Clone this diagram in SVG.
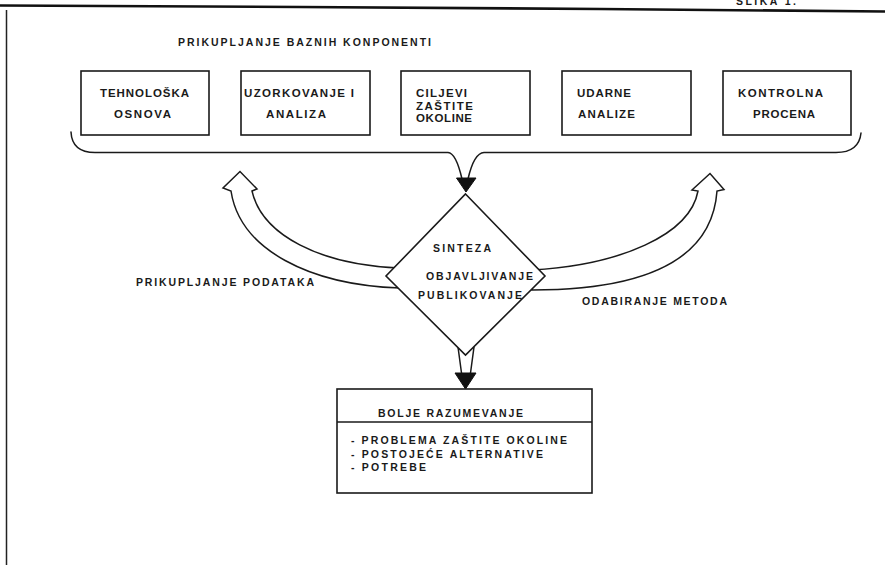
<svg xmlns="http://www.w3.org/2000/svg" width="885" height="565" viewBox="0 0 885 565">
  <style>
    .box { fill: #fff; stroke: #1a1a1a; stroke-width: 1.6; }
    .ln { fill: none; stroke: #1a1a1a; stroke-width: 1.5; stroke-linecap: round; stroke-linejoin: round; }
    .band { fill: #fff; stroke: #1a1a1a; stroke-width: 1.5; stroke-linejoin: miter; }
    .head { fill: #111; stroke: #111; stroke-width: 1; stroke-linejoin: round; }
    text { font-family: "Liberation Sans", Arial, sans-serif; font-weight: bold; fill: #1a1a1a; }
    .t11 { font-size: 11.5px; }
    .t10 { font-size: 10.5px; }
  </style>

  <rect x="0" y="0" width="885" height="565" fill="#fff"/>

  <!-- page frame -->
  <g id="frame">
    <path d="M0,5.5 L300,7 L600,9 L885,11.5" fill="none" stroke="#111" stroke-width="2.6"/>
    <line x1="6.5" y1="10" x2="6.5" y2="565" stroke="#222" stroke-width="1.5"/>
    <text class="t10" x="736" y="4.5" textLength="60">SLIKA 1.</text>
  </g>

  <g id="title">
    <text class="t10" x="178" y="46" textLength="253">PRIKUPLJANJE BAZNIH KONPONENTI</text>
  </g>

  <!-- component boxes -->
  <g id="tehnoloska-osnova">
    <rect class="box" x="81" y="71" width="128" height="64"/>
    <text class="t11" x="100" y="97" textLength="89">TEHNOLOŠKA</text>
    <text class="t11" x="114" y="117.5" textLength="57">OSNOVA</text>
  </g>
  <g id="uzorkovanje-analiza">
    <rect class="box" x="241" y="71" width="129" height="64"/>
    <text class="t11" x="244" y="97" textLength="110">UZORKOVANJE I</text>
    <text class="t11" x="266" y="117.5" textLength="60">ANALIZA</text>
  </g>
  <g id="ciljevi-zastite">
    <rect class="box" x="401" y="71" width="129" height="64"/>
    <text class="t11" x="416" y="97" textLength="51">CILJEVI</text>
    <text class="t11" x="416" y="109.5" textLength="57">ZAŠTITE</text>
    <text class="t11" x="416" y="122" textLength="56">OKOLINE</text>
  </g>
  <g id="udarne-analize">
    <rect class="box" x="562" y="71" width="129" height="64"/>
    <text class="t11" x="577" y="97" textLength="54">UDARNE</text>
    <text class="t11" x="578" y="117.5" textLength="57">ANALIZE</text>
  </g>
  <g id="kontrolna-procena">
    <rect class="box" x="723" y="71" width="128" height="64"/>
    <text class="t11" x="738" y="97" textLength="85">KONTROLNA</text>
    <text class="t11" x="753" y="117.5" textLength="62">PROCENA</text>
  </g>

  <!-- connectors: brace, hollow curved arrows, down arrows -->
  <g id="connectors">
    <path class="ln" d="M71,132 Q72,152.5 95,152.5 L448,152.5 Q456,153 462,179"/>
    <path class="ln" d="M861,133 Q859,152.5 836,152.5 L484,152.5 Q474,153 468,179"/>
    <polygon class="head" points="456.5,178 476,178 466,192"/>

    <path class="band" d="M400,288 C310,285 240,250 231,191 L223,188 L240,171.5 L257,189 L252,191 C262,235 320,265 400,268 Z"/>
    <path class="band" d="M532,290 C640,290 712,262 717,191 L724,189.5 L710,173.5 L692,190 L698,191 C690,235 620,265 532,270 Z"/>

    <path class="ln" d="M458,347 L461.5,373 M474,347 L470.5,373"/>
    <polygon class="head" points="455,373 476,373 465.5,389"/>
  </g>

  <g id="sinteza">
    <polygon class="box" points="465.5,194 545,276 465.5,355 386,276" stroke-width="1.5"/>
    <text class="t10" x="433" y="252" textLength="58">SINTEZA</text>
    <text class="t10" x="426" y="280" textLength="107">OBJAVLJIVANJE</text>
    <text class="t10" x="418" y="299" textLength="104">PUBLIKOVANJE</text>
  </g>

  <g id="labels">
    <text class="t10" x="136" y="286" textLength="178">PRIKUPLJANJE PODATAKA</text>
    <text class="t10" x="582" y="305" textLength="145">ODABIRANJE METODA</text>
  </g>

  <g id="bolje-razumevanje">
    <rect class="box" x="337" y="389" width="255" height="104"/>
    <line x1="337" y1="422" x2="592" y2="422" stroke="#1a1a1a" stroke-width="1.4"/>
    <text class="t10" x="378" y="417" textLength="145">BOLJE RAZUMEVANJE</text>
    <text class="t10" x="351" y="444" textLength="216">- PROBLEMA ZAŠTITE OKOLINE</text>
    <text class="t10" x="351" y="457.5" textLength="192">- POSTOJEĆE ALTERNATIVE</text>
    <text class="t10" x="351" y="471" textLength="75">- POTREBE</text>
  </g>
</svg>
